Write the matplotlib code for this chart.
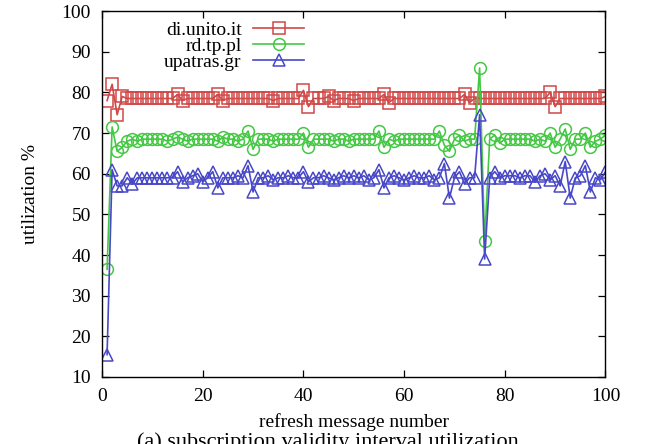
import matplotlib
matplotlib.use("Agg")
import matplotlib.pyplot as plt
import numpy as np

plt.rcParams['font.family'] = ['Liberation Serif', 'DejaVu Serif']
plt.rcParams['mathtext.fontset'] = 'stix'

msg_num = list(range(1, 101))

unito = [78, 82, 74.5, 79, 78.5, 78.5, 78.5, 78.5, 78.5, 78.5,
         78.5, 78.5, 78.5, 78.5, 79.5, 78, 78.5, 78.5, 78.5, 78.5,
         78.5, 78.5, 79.5, 78, 78.5, 78.5, 78.5, 78.5, 78.5, 78.5,
         78.5, 78.5, 78.5, 78, 78.5, 78.5, 78.5, 78.5, 78.5, 80.5,
         76.5, 78.5, 78.5, 78.5, 79, 78, 78.5, 78.5, 78.5, 78,
         78.5, 78.5, 78.5, 78.5, 78.5, 79.5, 77.5, 78.5, 78.5, 78.5,
         78.5, 78.5, 78.5, 78.5, 78.5, 78.5, 78.5, 78.5, 78.5, 78.5,
         78.5, 79.5, 77.5, 78.5, 78.5, 78.5, 78.5, 78.5, 78.5, 78.5,
         78.5, 78.5, 78.5, 78.5, 78.5, 78.5, 78.5, 78.5, 80, 76.5,
         78.5, 78.5, 78.5, 78.5, 78.5, 78.5, 78.5, 78.5, 78.5, 79]

tppl = [36.5, 71.5, 65.5, 66.5, 68, 68.5, 68, 68.5, 68.5, 68.5,
        68.5, 68.5, 68, 68.5, 69, 68.5, 68, 68.5, 68.5, 68.5,
        68.5, 68.5, 68, 69, 68.5, 68.5, 68, 68.5, 70.5, 66,
        68.5, 68.5, 68.5, 68, 68.5, 68.5, 68.5, 68.5, 68.5, 70,
        66.5, 68.5, 68.5, 68.5, 68.5, 68, 68.5, 68.5, 68, 68.5,
        68.5, 68.5, 68.5, 68.5, 70.5, 66.5, 68.5, 68, 68.5, 68.5,
        68.5, 68.5, 68.5, 68.5, 68.5, 68.5, 70.5, 67, 65.5, 68.5,
        69.5, 68, 68.5, 68.5, 86, 43.5, 68.5, 69.5, 67.5, 68.5,
        68.5, 68.5, 68.5, 68.5, 68.5, 68, 68.5, 68, 70, 66.5,
        68.5, 71, 66, 68.5, 68.5, 70, 66.5, 68, 68.5, 69.5]

upatras = [15.5, 61, 57, 57, 59, 57.5, 59, 59, 59, 59,
           59, 59, 59, 59, 60.5, 58, 59, 59.5, 60, 58,
           59, 60.5, 56.5, 59, 59, 59, 59.5, 59, 62, 55.5,
           59, 59, 59.5, 58.5, 59, 59, 59.5, 59, 59, 60.5,
           58, 59, 59, 59.5, 59, 58.5, 59, 59.5, 59, 59.5,
           59, 59.5, 58.5, 59, 61, 56.5, 59, 59.5, 59, 58.5,
           59, 59.5, 59, 59, 59.5, 58.5, 59, 62.5, 54, 59,
           60.5, 57.5, 59, 59, 74.5, 39, 59, 60.5, 59, 59.5,
           59.5, 59.5, 59, 59.5, 59.5, 58, 59.5, 60, 58.5, 59.5,
           57, 63, 54, 59, 59.5, 62, 55.5, 59, 58.5, 60.5]

fig = plt.figure(figsize=(6.5, 4.44), dpi=100)
ax = fig.add_axes([0.157, 0.151, 0.7745, 0.824])

ax.plot(msg_num, unito, color='#d04848', marker='s', markersize=8.5, markerfacecolor='none',
        markeredgewidth=1.1, linewidth=1.2, label='di.unito.it')
ax.plot(msg_num, tppl, color='#44c844', marker='o', markersize=8.5, markerfacecolor='none',
        markeredgewidth=1.1, linewidth=1.2, label='rd.tp.pl')
ax.plot(msg_num, upatras, color='#4848c8', marker='^', markersize=8.5, markerfacecolor='none',
        markeredgewidth=1.1, linewidth=1.2, label='upatras.gr')

ax.set_xlim(0, 100)
ax.set_ylim(10, 100)
ax.set_xticks(range(0, 101, 20))
ax.set_yticks(range(10, 101, 10))
ax.tick_params(direction='in', length=5, width=0.9, top=True, right=True, labelsize=14, pad=8)
for s in ax.spines.values():
    s.set_linewidth(1.0)

ax.set_xlabel('refresh message number', fontsize=14, labelpad=6)
ax.set_ylabel('utilization %', fontsize=14, labelpad=16)

leg = ax.legend(loc='upper left', bbox_to_anchor=(0.1, 1.003), frameon=False, fontsize=14,
                markerfirst=False, handlelength=2.6, handletextpad=0.6, labelspacing=-0.1,
                borderaxespad=0.2)
# right-align the labels like gnuplot does
leg._legend_box.get_children()[1].get_children()[0].align = 'right'

fig.text(0.505, 0.027, '(a) subscription validity interval utilization', ha='center', va='top',
         fontsize=16)

fig.savefig('out.png', dpi=100)
